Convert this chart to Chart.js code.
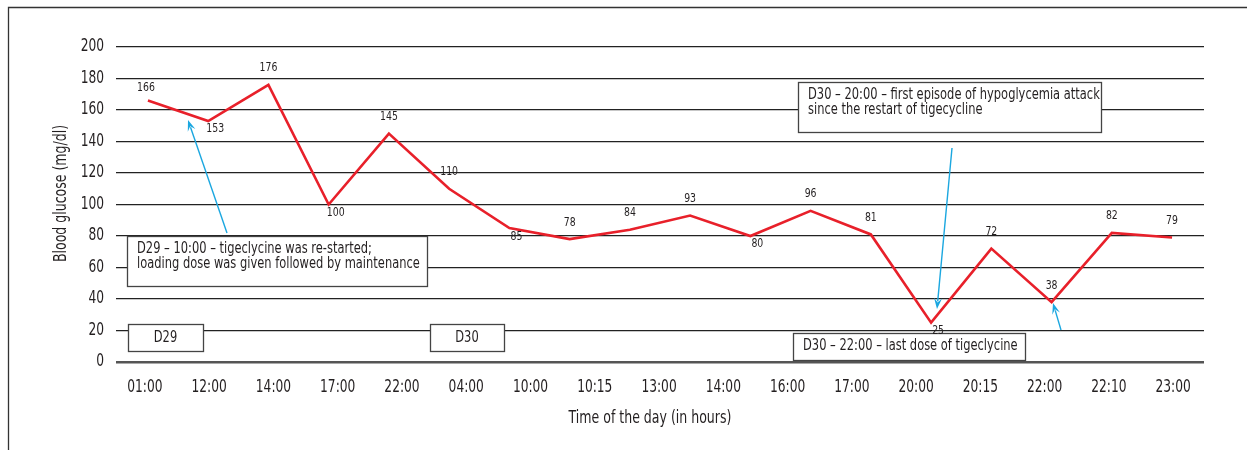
<!DOCTYPE html>
<html>
<head>
<meta charset="utf-8">
<script src="https://cdn.jsdelivr.net/npm/chart.js@4"></script>
<style>
  html, body { margin: 0; padding: 0; background: #fff; }
  #wrap { width: 1247px; height: 450px; position: relative; }
</style>
</head>
<body>
<div id="wrap"><canvas id="c" width="1247" height="450"></canvas></div>
<script>
// ---- data ----
const xLabels = ['01:00','12:00','14:00','17:00','22:00','04:00','10:00','10:15','13:00','14:00','16:00','17:00','20:00','20:15','22:00','22:10','23:00'];
const glucose = [166,153,176,100,145,110,85,78,84,93,80,96,81,25,72,38,82,79];
const yTicks = [0,20,40,60,80,100,120,140,160,180,200];
const labelSide = ['a0','b','a','b','a','a','b','a','a','a','b','a','a','b','a','a','a','a'];
const xTitle = 'Time of the day (in hours)';
const yTitle = 'Blood glucose (mg/dl)';

const FONT = "'Liberation Sans Narrow','DejaVu Sans Condensed','Arial Narrow',sans-serif";
const TXT = '#231f20';

const framePlugin = {
  id: 'frame',
  beforeDraw(chart) {
    const ctx = chart.ctx;
    ctx.save();
    ctx.fillStyle = '#fff';
    ctx.fillRect(0, 0, chart.width, chart.height);
    ctx.strokeStyle = '#333';
    ctx.lineWidth = 1.3;
    ctx.beginPath();
    ctx.moveTo(8.5, 450);
    ctx.lineTo(8.5, 7.5);
    ctx.lineTo(1247, 7.5);
    ctx.stroke();
    ctx.restore();
  }
};

function sqText(ctx, t, x, y, align, sq, rot) {
  ctx.save();
  ctx.translate(x, y);
  if (rot) ctx.rotate(rot);
  ctx.scale(sq, 1);
  ctx.textAlign = align;
  ctx.fillText(t, 0, 0);
  ctx.restore();
}

function box(ctx, x1, y1, x2, y2, lines, align) {
  ctx.fillStyle = '#fff';
  ctx.fillRect(x1, y1, x2 - x1, y2 - y1);
  ctx.strokeStyle = '#444';
  ctx.lineWidth = 1.3;
  ctx.strokeRect(x1 + 0.5, y1 + 0.5, x2 - x1, y2 - y1);
  ctx.fillStyle = TXT;
  ctx.font = '15px ' + FONT;
  ctx.textBaseline = 'middle';
  const n = lines.length;
  if (align === 'center') {
    sqText(ctx, lines[0], (x1 + x2) / 2, (y1 + y2) / 2 + 1, 'center', 0.85);
  } else {
    const lh = 15;
    const cy = (y1 + y2) / 2 - (n - 1) * lh / 2 - (n > 1 ? 4 : 0);
    lines.forEach((t, i) => sqText(ctx, t, x1 + 10, cy + i * lh, 'left', 0.85));
  }
}

function arrow(ctx, x1, y1, x2, y2) {
  const col = '#1ba7e0';
  const ang = Math.atan2(y2 - y1, x2 - x1);
  const hl = 11, hw = 4;
  ctx.strokeStyle = col;
  ctx.fillStyle = col;
  ctx.lineWidth = 1.4;
  ctx.beginPath();
  ctx.moveTo(x1, y1);
  ctx.lineTo(x2 - Math.cos(ang) * hl * 0.7, y2 - Math.sin(ang) * hl * 0.7);
  ctx.stroke();
  ctx.beginPath();
  ctx.moveTo(x2, y2);
  ctx.lineTo(x2 - Math.cos(ang) * hl - Math.sin(ang) * hw, y2 - Math.sin(ang) * hl + Math.cos(ang) * hw);
  ctx.lineTo(x2 - Math.cos(ang) * hl * 0.6, y2 - Math.sin(ang) * hl * 0.6);
  ctx.lineTo(x2 - Math.cos(ang) * hl + Math.sin(ang) * hw, y2 - Math.sin(ang) * hl - Math.cos(ang) * hw);
  ctx.closePath();
  ctx.fill();
}

const annotPlugin = {
  id: 'annot',
  afterDatasetsDraw(chart) {
    const ctx = chart.ctx;
    ctx.save();
    box(ctx, 127, 236, 427, 286, ['D29 – 10:00 – tigeclycine was re-started;', 'loading dose was given followed by maintenance']);
    box(ctx, 128, 324, 203, 351, ['D29'], 'center');
    box(ctx, 430, 324, 504, 351, ['D30'], 'center');
    box(ctx, 798, 82, 1101, 132, ['D30 – 20:00 – first episode of hypoglycemia attack', 'since the restart of tigecycline']);
    box(ctx, 793, 333, 1025, 360, ['D30 – 22:00 – last dose of tigeclycine']);

    // data labels
    const meta = chart.getDatasetMeta(0);
    ctx.fillStyle = TXT;
    ctx.font = '13px ' + FONT;
    ctx.textBaseline = 'middle';
    meta.data.forEach((pt, i) => {
      const s = labelSide[i];
      let dx = 0, dy = -17;
      if (s === 'a0') { dx = -2; dy = -13; }
      if (s === 'b') { dx = 7; dy = 8; }
      sqText(ctx, String(glucose[i]), pt.x + dx, pt.y + dy, 'center', 0.8);
    });

    arrow(ctx, 227, 233, 188, 120);
    arrow(ctx, 952, 148, 937, 309);
    arrow(ctx, 1061, 330, 1053, 303);

    // axis tick labels & titles (condensed look), positioned by the chart's scales
    const xs = chart.scales.x, ys = chart.scales.y;
    ctx.font = '17px ' + FONT;
    ctx.fillStyle = TXT;
    ctx.textBaseline = 'middle';
    xs.ticks.forEach((t) => {
      sqText(ctx, xLabels[t.value], xs.getPixelForValue(t.value), xs.top + 26, 'center', 0.8);
    });
    ys.ticks.forEach((t) => {
      sqText(ctx, String(t.value), ys.right - 12, ys.getPixelForValue(t.value), 'right', 0.8);
    });
    sqText(ctx, xTitle, (xs.left + xs.right) / 2 - 10, xs.top + 57, 'center', 0.82);
    sqText(ctx, yTitle, 62, (ys.top + ys.bottom) / 2 - 11, 'center', 0.82, -Math.PI / 2);
    ctx.restore();
  }
};

new Chart(document.getElementById('c'), {
  type: 'line',
  data: {
    datasets: [{
      data: glucose.map((v, i) => ({ x: i, y: v })),
      xAxisID: 'xd',
      yAxisID: 'y',
      borderColor: '#e8202a',
      borderWidth: 2.6,
      pointRadius: 0,
      tension: 0,
      fill: false
    }]
  },
  options: {
    responsive: false,
    animation: false,
    events: [],
    layout: { padding: { left: 53, right: 43, top: 47, bottom: 22 } },
    plugins: { legend: { display: false }, tooltip: { enabled: false } },
    scales: {
      xd: {
        type: 'linear', display: false, min: -0.53, max: 17.53
      },
      x: {
        type: 'linear', position: 'bottom', min: -0.45, max: 16.48,
        afterBuildTicks: (s) => { s.ticks = xLabels.map((_, i) => ({ value: i })); },
        afterFit: (s) => { s.height = 66; },
        grid: { display: false, drawTicks: false },
        border: { display: false },
        ticks: {
          autoSkip: false, maxRotation: 0, padding: 17, color: 'rgba(0,0,0,0)',
          font: { family: FONT, size: 14 },
          callback: (v) => xLabels[v]
        },
        title: { display: false }
      },
      y: {
        min: 0, max: 200,
        afterBuildTicks: (s) => { s.ticks = yTicks.map(v => ({ value: v })); },
        afterFit: (s) => { s.width = 63; },
        grid: {
          drawTicks: false,
          color: (c) => c.tick.value === 0 ? '#555' : '#222',
          lineWidth: (c) => c.tick.value === 0 ? 2.6 : 1.3
        },
        border: { display: false },
        ticks: { padding: 12, color: 'rgba(0,0,0,0)', font: { family: FONT, size: 14 } },
        title: { display: false }
      }
    }
  },
  plugins: [framePlugin, annotPlugin]
});
</script>
</body>
</html>
